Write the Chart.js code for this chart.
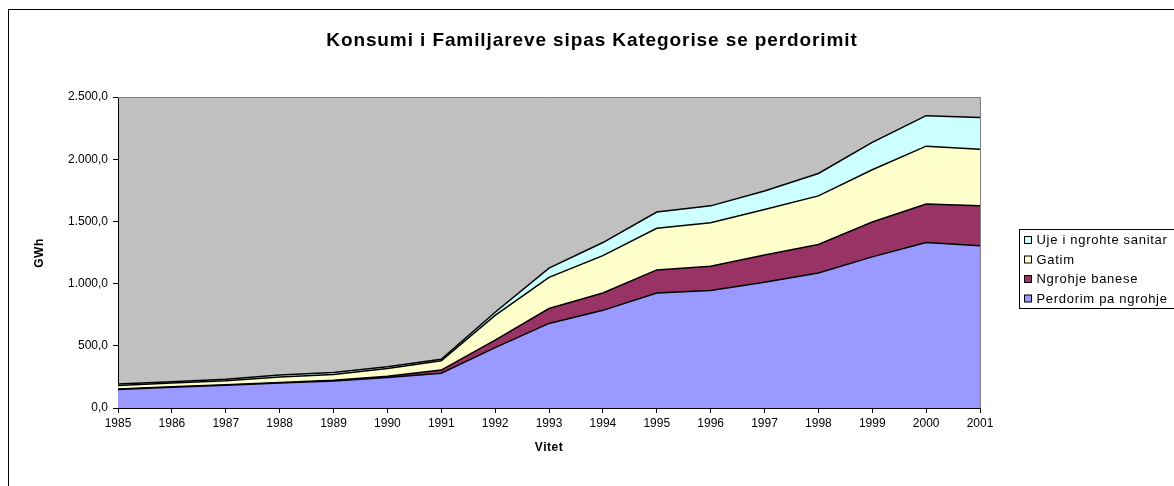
<!DOCTYPE html>
<html>
<head>
<meta charset="utf-8">
<script src="https://cdn.jsdelivr.net/npm/chart.js@4"></script>
<style>
  html, body { margin: 0; padding: 0; background: #fff; }
  #chart { display: block; }
</style>
</head>
<body>
<canvas id="chart" width="1174" height="486"></canvas>
<script>
const YEARS = ['1985', '1986', '1987', '1988', '1989', '1990', '1991', '1992', '1993',
    '1994', '1995', '1996', '1997', '1998', '1999', '2000', '2001'];

// GWh sipas kategorise (vlera te lexuara nga grafiku)
const PERDORIM_PA_NGROHJE = [148, 166, 182, 200, 218, 245, 280, 485, 680, 785, 925, 945, 1010, 1085, 1215, 1330, 1305];
const NGROHJE_BANESE = [5, 5, 5, 5, 5, 10, 25, 60, 120, 140, 185, 195, 220, 230, 280, 310, 320];
const GATIM = [27, 29, 33, 45, 47, 63, 75, 200, 250, 300, 335, 350, 365, 390, 420, 465, 455];
const UJE_I_NGROHTE = [12, 12, 12, 15, 15, 14, 12, 25, 75, 105, 130, 135, 150, 180, 220, 245, 255];

const Y_MIN = 0;
const Y_MAX = 2500;
const Y_STEP = 500;

const FONT = '"Liberation Sans", Arial, sans-serif';

function formatGWh(v) {
    const parts = v.toFixed(1).split('.');
    const int = parts[0].replace(/\B(?=(\d{3})+(?!\d))/g, '.');
    return int + ',' + parts[1];
}

function serie(label, data, color, fill) {
    return {
        label: label,
        data: data,
        backgroundColor: color,
        borderColor: '#000',
        borderWidth: 1.5,
        pointRadius: 0,
        tension: 0,
        fill: fill
    };
}

// vizaton kornizen, titujt dhe legjenden
const decorPlugin = {
    id: 'decor',
    beforeDraw(chart) {
        const ctx = chart.ctx;
        const a = chart.chartArea;
        ctx.save();
        ctx.fillStyle = '#fff';
        ctx.fillRect(0, 0, chart.width, chart.height);
        ctx.strokeStyle = '#000';
        ctx.lineWidth = 1;
        ctx.strokeRect(8.5, 9.5, chart.width + 20, chart.height + 20);
        ctx.fillStyle = '#c0c0c0';
        ctx.fillRect(a.left, a.top, a.right - a.left, a.bottom - a.top);
        ctx.restore();
    },
    afterDraw(chart) {
        const ctx = chart.ctx;
        const a = chart.chartArea;
        ctx.save();
        // korniza gri e zones
        ctx.strokeStyle = '#808080';
        ctx.lineWidth = 1;
        ctx.beginPath();
        ctx.moveTo(a.left, a.top + 0.5);
        ctx.lineTo(a.right + 0.5, a.top + 0.5);
        ctx.lineTo(a.right + 0.5, a.bottom);
        ctx.stroke();

        ctx.fillStyle = '#000';
        ctx.textAlign = 'center';
        ctx.textBaseline = 'middle';
        ctx.font = 'bold 19px ' + FONT;
        ctx.letterSpacing = '0.9px';
        ctx.fillText('Konsumi i Familjareve sipas Kategorise se perdorimit', 592, 41);

        ctx.letterSpacing = '0.5px';
        ctx.font = 'bold 12px ' + FONT;
        ctx.fillText('Vitet', 549, 448);
        ctx.save();
        ctx.translate(40, 253);
        ctx.rotate(-Math.PI / 2);
        ctx.fillText('GWh', 0, 0);
        ctx.restore();

        // legjenda
        const lx = 1019.5, ly = 229.5;
        ctx.strokeStyle = '#000';
        ctx.strokeRect(lx, ly, 200, 79);
        ctx.font = '13px ' + FONT;
        ctx.letterSpacing = '0.7px';
        ctx.textAlign = 'left';
        const ds = chart.data.datasets.slice().reverse();
        ds.forEach((d, i) => {
            const y = 240.5 + i * 19.5;
            ctx.fillStyle = d.backgroundColor;
            ctx.fillRect(lx + 5, y - 4, 7, 7);
            ctx.strokeRect(lx + 5, y - 4, 7, 7);
            ctx.fillStyle = '#000';
            ctx.fillText(d.label, lx + 17, y);
        });
        ctx.restore();
    }
};

new Chart(document.getElementById('chart'), {
    type: 'line',
    data: {
        labels: YEARS,
        datasets: [
            serie('Perdorim pa ngrohje', PERDORIM_PA_NGROHJE, '#9999ff', 'origin'),
            serie('Ngrohje banese', NGROHJE_BANESE, '#993366', '-1'),
            serie('Gatim', GATIM, '#ffffcc', '-1'),
            serie('Uje i ngrohte sanitar', UJE_I_NGROHTE, '#ccffff', '-1')
        ]
    },
    options: {
        responsive: false,
        animation: false,
        layout: { padding: { left: 0, top: 97, right: 194, bottom: 0 } },
        plugins: {
            legend: { display: false },
            title: { display: false },
            tooltip: { enabled: false }
        },
        scales: {
            x: {
                offset: false,
                afterFit: s => { s.height = 78; },
                grid: { drawOnChartArea: false, drawTicks: true, tickLength: 5, tickColor: '#000' },
                border: { color: '#000', width: 1 },
                ticks: { color: '#000', font: { family: FONT, size: 12 }, padding: 3, autoSkip: false, maxRotation: 0 }
            },
            y: {
                stacked: true,
                min: Y_MIN,
                max: Y_MAX,
                afterFit: s => { s.width = 118; },
                grid: { drawOnChartArea: false, drawTicks: true, tickLength: 5, tickColor: '#000' },
                border: { color: '#000', width: 1 },
                ticks: { stepSize: Y_STEP, color: '#000', font: { family: FONT, size: 12 }, padding: 5, callback: v => formatGWh(v) }
            }
        }
    },
    plugins: [decorPlugin]
});
</script>
</body>
</html>
